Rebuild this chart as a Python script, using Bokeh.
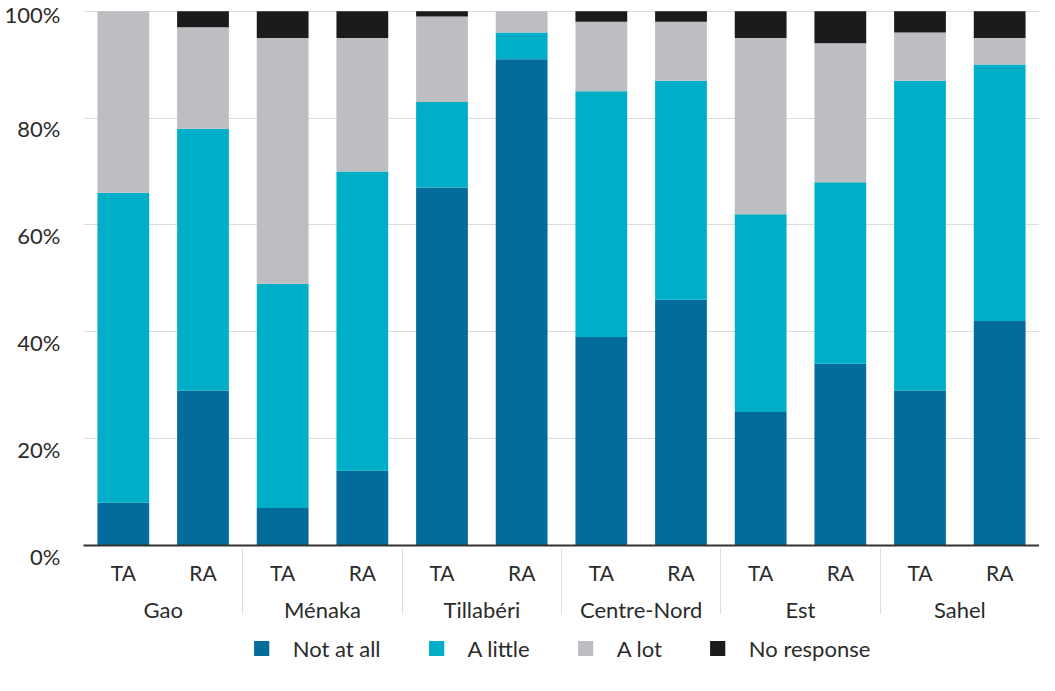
from bokeh.plotting import figure
from bokeh.models import (ColumnDataSource, FactorRange, Range1d, Legend, LegendItem,
                          FixedTicker)
from bokeh.layouts import column
from bokeh.embed import file_html
from bokeh.resources import INLINE

regions = ["Gao", "Ménaka", "Tillabéri", "Centre-Nord", "Est", "Sahel"]
subgroups = ["TA", "RA"]
series_names = ["Not at all", "A little", "A lot", "No response"]
not_at_all = [8, 29, 7, 14, 67, 91, 39, 46, 25, 34, 29, 42]
a_little = [58, 49, 42, 56, 16, 5, 46, 41, 37, 34, 58, 48]
a_lot = [34, 19, 46, 25, 16, 4, 13, 11, 33, 26, 9, 5]
no_response = [0, 3, 5, 5, 1, 0, 2, 2, 5, 6, 4, 5]
y_ticks = [0, 20, 40, 60, 80, 100]
y_tick_labels = ["0%", "20%", "40%", "60%", "80%", "100%"]

colors = ["#046c9b", "#00aec7", "#bcbec2", "#1c1a1b"]
FONT = "Lato"
TXT = "#2b2b2b"

x = [(r, s) for r in regions for s in subgroups]
source = ColumnDataSource(dict(x=x, s0=not_at_all, s1=a_little, s2=a_lot, s3=no_response))

p = figure(x_range=FactorRange(*x, group_padding=0, range_padding=0, subgroup_padding=0),
           y_range=Range1d(0, 102),
           frame_width=956, frame_height=545, output_backend="svg", toolbar_location=None,
           min_border_left=83, min_border_right=0, min_border_top=0, min_border_bottom=0)
p.outline_line_color = None

rs = p.vbar_stack(["s0", "s1", "s2", "s3"], x="x", width=0.65, color=colors,
                  line_color=None, source=source)

p.yaxis.ticker = FixedTicker(ticks=y_ticks)
# empty first line pushes each label just below its gridline, as in the reference
overrides = {v: "\n" + lab for v, lab in zip(y_ticks, y_tick_labels)}
overrides[y_ticks[-1]] = y_tick_labels[-1]
p.yaxis.major_label_overrides = overrides
p.yaxis.axis_line_color = None
p.yaxis.major_tick_line_color = None
p.yaxis.minor_tick_line_color = None
p.yaxis.major_label_text_font = FONT
p.yaxis.major_label_text_font_size = "22px"
p.yaxis.major_label_text_line_height = 0.8
p.yaxis.major_label_text_color = TXT
p.yaxis.major_label_standoff = 17

p.ygrid.grid_line_color = "#dcdcdc"
p.ygrid.grid_line_width = 1
p.xgrid.grid_line_color = None

xa = p.xaxis[0]
xa.axis_line_color = "#333333"
xa.axis_line_width = 2
xa.major_tick_line_color = None
xa.minor_tick_line_color = None
xa.major_label_text_font = FONT
xa.major_label_text_font_size = "21px"
xa.major_label_text_color = TXT
xa.major_label_standoff = 8
xa.group_text_font = FONT
xa.group_text_font_size = "22px"
xa.group_text_color = TXT
xa.group_text_font_style = "normal"
xa.separator_line_color = "#dcdcdc"
xa.separator_line_width = 1

# legend row (zero-height stub bars only provide the legend swatches)
p2 = figure(width=1039, height=45, x_range=Range1d(0, 1), y_range=Range1d(0, 1),
            output_backend="svg", toolbar_location=None,
            min_border_left=0, min_border_right=0, min_border_top=0, min_border_bottom=0)
p2.axis.visible = False
p2.grid.visible = False
p2.outline_line_color = None
swatches = [p2.vbar(x=[0.5], top=[0], width=0.0, color=c, line_color=None) for c in colors]
items = [LegendItem(label=n, renderers=[r], index=0) for n, r in zip(series_names, swatches)]
leg = Legend(items=items, orientation="horizontal", location="center",
             label_text_font=FONT, label_text_font_size="22px", label_text_color=TXT,
             glyph_width=19, glyph_height=19, label_standoff=22, spacing=46,
             border_line_color=None, background_fill_alpha=0, margin=0, padding=4)
p2.add_layout(leg, "center")

open("out.html", "w").write(file_html(column(p, p2, spacing=0), INLINE))
